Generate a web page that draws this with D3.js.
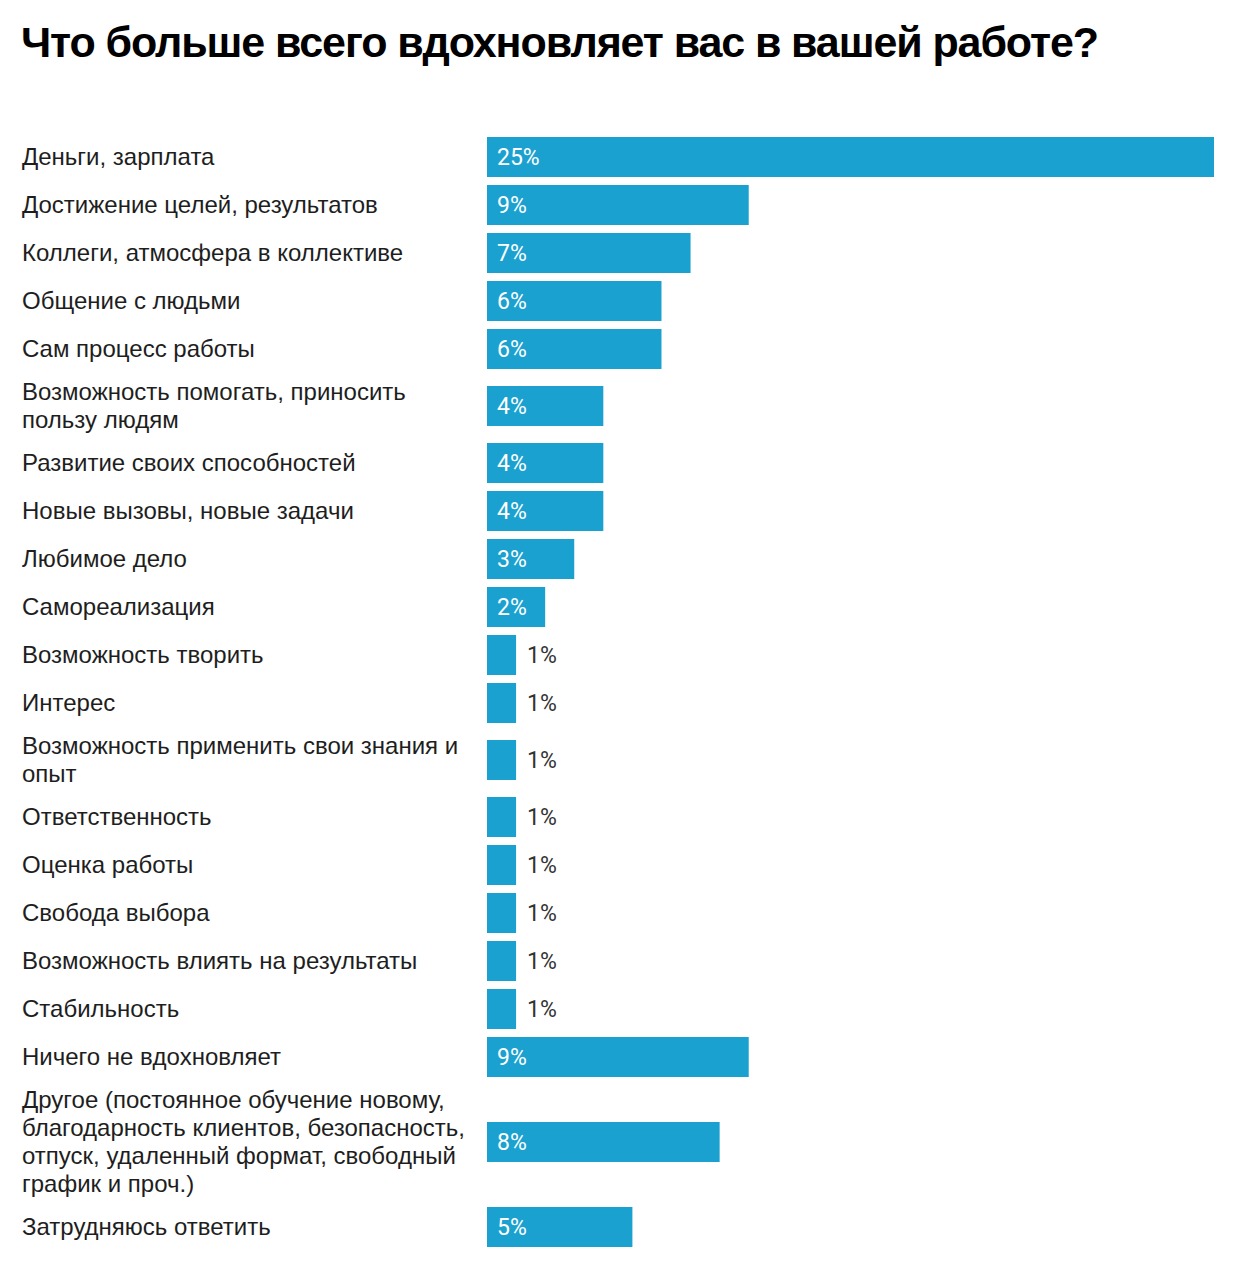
<!DOCTYPE html>
<html>
<head>
<meta charset="utf-8">
<script src="https://cdn.jsdelivr.net/npm/d3@7"></script>
<style>
  body { margin: 0; background: #fff; }
  svg { display: block; }
</style>
</head>
<body>
<div id="chart"></div>
<script>
const title = 'Что больше всего вдохновляет вас в вашей работе?';

// line breaks inside a label follow the reference wrapping
const categories = [
  'Деньги, зарплата',
  'Достижение целей, результатов',
  'Коллеги, атмосфера в коллективе',
  'Общение с людьми',
  'Сам процесс работы',
  'Возможность помогать, приносить\nпользу людям',
  'Развитие своих способностей',
  'Новые вызовы, новые задачи',
  'Любимое дело',
  'Самореализация',
  'Возможность творить',
  'Интерес',
  'Возможность применить свои знания и\nопыт',
  'Ответственность',
  'Оценка работы',
  'Свобода выбора',
  'Возможность влиять на результаты',
  'Стабильность',
  'Ничего не вдохновляет',
  'Другое (постоянное обучение новому,\nблагодарность клиентов, безопасность,\nотпуск, удаленный формат, свободный\nграфик и проч.)',
  'Затрудняюсь ответить'
];

const values = [25, 9, 7, 6, 6, 4, 4, 4, 3, 2, 1, 1, 1, 1, 1, 1, 1, 1, 9, 8, 5];

const W = 1236, H = 1280;
const barH = 40, lineH = 28, gap = 8, startY = 133;
const BLUE = '#1ba1d0';

const svg = d3.select('#chart').append('svg')
  .attr('width', W).attr('height', H);

svg.append('text')
  .attr('x', 21).attr('y', 57)
  .attr('fill', '#000')
  .style('font-family', '"Liberation Sans", Arial, sans-serif')
  .style('font-weight', 'bold')
  .style('font-size', '43px')
  .style('letter-spacing', '-1.1px')
  .text(title);

const rows = categories.map((c, i) => ({ label: c, lines: c.split('\n'), value: values[i] }));

// row centres: each row is as tall as its bar or its wrapped label
let cursor = startY;
const centres = rows.map(r => {
  const textH = r.lines.length > 1 ? r.lines.length * lineH + 2 : 0;
  const h = Math.max(barH, textH) + gap;
  const c = cursor + h / 2;
  cursor += h;
  return c;
});

const y = d3.scaleOrdinal().domain(categories).range(centres);
const x = d3.scaleLinear().domain([0, 25]).range([487, 1214]);

const row = svg.append('g').selectAll('g.row').data(rows).join('g')
  .attr('class', 'row');

row.append('rect')
  .attr('x', x(0))
  .attr('y', d => y(d.label) - barH / 2)
  .attr('width', d => x(d.value) - x(0))
  .attr('height', barH)
  .attr('fill', BLUE);

row.append('text')
  .attr('x', 22)
  .attr('fill', '#1e1e1e')
  .style('font-family', '"Liberation Sans", Arial, sans-serif')
  .style('font-size', '24px')
  .selectAll('tspan')
  .data(d => d.lines.map((t, k) => ({ t, k, n: d.lines.length, c: y(d.label) })))
  .join('tspan')
  .attr('x', 22)
  .attr('y', l => l.c + (l.k - (l.n - 1) / 2) * lineH + 8)
  .text(l => l.t);

row.append('text')
  .attr('x', d => d.value >= 2 ? x(0) + 10 : x(d.value) + 11)
  .attr('y', d => y(d.label) + 8)
  .attr('fill', d => d.value >= 2 ? '#fff' : '#333')
  .style('font-family', 'Roboto, sans-serif')
  .style('font-size', '23px')
  .text(d => d.value + '%');
</script>
</body>
</html>
